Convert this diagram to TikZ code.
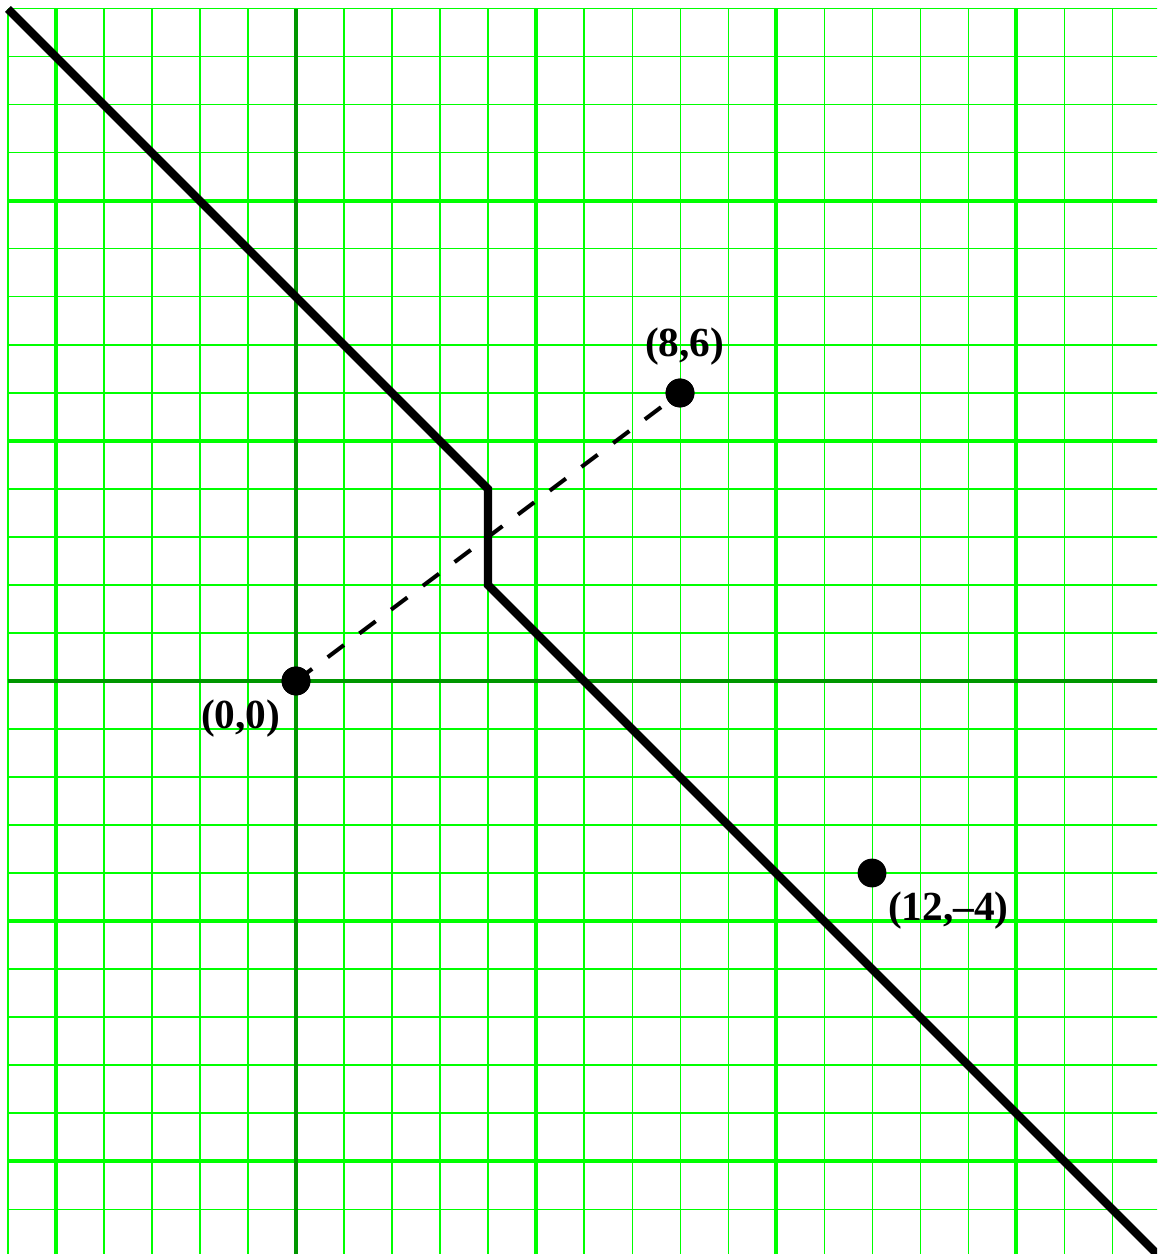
\documentclass[tikz,border=0pt]{standalone}
\usepackage{fontspec}
\setmainfont{Liberation Serif}
\definecolor{gridgreen}{RGB}{0,255,0}
\definecolor{axisgreen}{RGB}{0,150,0}
\tikzset{
  thinline/.style={draw=gridgreen, line width=0.6pt},
  thickline/.style={draw=gridgreen, line width=2.6pt},
  axisline/.style={draw=axisgreen, line width=2.4pt},
  bisector/.style={draw=black, line width=5pt},
  joinline/.style={draw=black, line width=2.4pt, dash pattern=on 12pt off 11.5pt},
  dot/.style={circle, fill=black, inner sep=0pt, minimum size=0.6cm},
  ptlabel/.style={font=\bfseries\fontsize{24.5}{28}\selectfont, inner sep=0pt, anchor=base}
}
\begin{document}
\begin{tikzpicture}
\useasboundingbox (-6.1667,-11.9375) rectangle (17.9375,14.1875);
\clip (-6.1667,-11.9375) rectangle (17.9375,14.1875);
% thin grid
\foreach \x in {-6,...,18} \draw[thinline] (\x,-12) -- (\x,14);
\foreach \y in {-12,...,14} \draw[thinline] (-6,\y) -- (18,\y);
% thick grid
\foreach \x in {-5,5,10,15} \draw[thickline] (\x,-12) -- (\x,14);
\foreach \y in {-10,-5,5,10} \draw[thickline] (-6,\y) -- (18,\y);
% axes
\draw[axisline] (0,-12) -- (0,14);
\draw[axisline] (-6,0) -- (18,0);
% bisector
\coordinate (b1) at (-6,14);
\coordinate (b2) at (4,4);
\coordinate (b3) at (4,2);
\coordinate (b4) at (18,-12);
\draw[bisector] (b1) -- (b2) -- (b3) -- (b4);
% points
\node[dot] (o) at (0,0) {};
\node[dot] (p) at (8,6) {};
\node[dot] (q) at (12,-4) {};
\draw[joinline] (o.center) -- (p.center);
\node[dot] at (o) {};
\node[dot] at (p) {};
% labels
\node[ptlabel] (lp) at (8.1,6.75) {(8,6)};
\node[ptlabel] (lo) at (-1.15,-0.98) {(0,0)};
\node[ptlabel] (lq) at (13.59,-4.98) {(12,--4)};
\end{tikzpicture}
\end{document}
